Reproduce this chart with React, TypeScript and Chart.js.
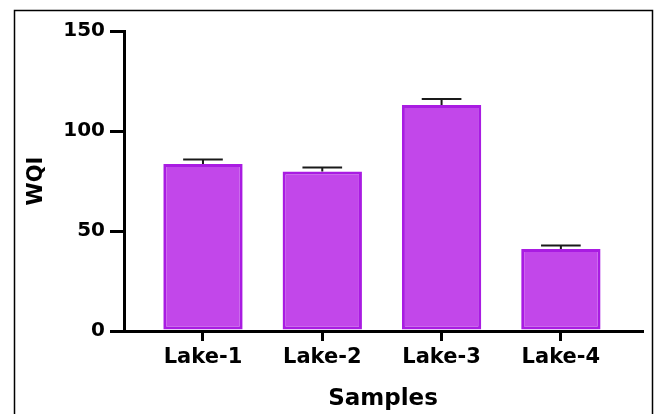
import { useEffect, useRef } from 'react';
import { Chart, registerables } from 'chart.js';

Chart.register(...registerables);

const categories = ['Lake-1', 'Lake-2', 'Lake-3', 'Lake-4'];
const wqiValues = [83.5, 79.7, 113, 41];
const wqiErrors = [2.2, 2.0, 3.0, 1.8];
const yTickValues = [0, 50, 100, 150];

const FONT = 'DejaVu Sans';

const errorBarPlugin = {
  id: 'errorBars',
  afterDatasetsDraw(chart: any) {
    const ctx = chart.ctx;
    const meta = chart.getDatasetMeta(0);
    const yScale = chart.scales.y;
    ctx.save();
    ctx.strokeStyle = '#1a1a1a';
    ctx.lineWidth = 2;
    meta.data.forEach((bar: any, i: number) => {
      const top = yScale.getPixelForValue(wqiValues[i] + wqiErrors[i]);
      const half = bar.width / 4;
      ctx.beginPath();
      ctx.moveTo(bar.x, bar.y);
      ctx.lineTo(bar.x, top);
      ctx.moveTo(bar.x - half, top);
      ctx.lineTo(bar.x + half, top);
      ctx.stroke();
    });
    ctx.restore();
  },
};

const framePlugin = {
  id: 'frame',
  afterDraw(chart: any) {
    const ctx = chart.ctx;
    ctx.save();
    ctx.strokeStyle = '#000';
    ctx.lineWidth = 1.5;
    ctx.beginPath();
    ctx.moveTo(14.5, 420);
    ctx.lineTo(14.5, 10.5);
    ctx.lineTo(652.5, 10.5);
    ctx.lineTo(652.5, 420);
    ctx.stroke();
    ctx.restore();
  },
};

export default function App() {
  const ref = useRef<HTMLCanvasElement>(null);

  useEffect(() => {
    document.body.style.margin = '0';
    const canvas = ref.current;
    if (!canvas) return;
    const chart = new Chart(canvas, {
      type: 'bar',
      data: {
        datasets: [
          {
            data: wqiValues.map((v, i) => ({ x: i, y: v })),
            backgroundColor: '#C247EA',
            borderColor: '#A91CE2',
            borderWidth: 3,
            borderSkipped: false,
            barPercentage: 0.665,
            categoryPercentage: 1,
          },
        ],
      },
      options: {
        animation: false,
        responsive: false,
        devicePixelRatio: 1,
        layout: { padding: { top: 31, right: 20, left: 0, bottom: 0 } },
        plugins: {
          legend: { display: false },
          tooltip: { enabled: false },
        },
        scales: {
          x: {
            type: 'linear',
            offset: false,
            min: -0.662,
            max: 3.68,
            afterBuildTicks: (s: any) => {
              s.ticks = categories.map((_, i) => ({ value: i }));
            },
            afterFit: (s: any) => {
              s.height = 83;
            },
            ticks: {
              callback: (v: any) => categories[v] ?? '',
              font: { family: FONT, weight: 'bold', size: 21 },
              color: '#000',
              padding: 4,
              maxRotation: 0,
              autoSkip: false,
            },
            grid: {
              offset: false,
              drawOnChartArea: false,
              drawTicks: true,
              tickLength: 10,
              tickWidth: 3,
              tickColor: '#000',
              lineWidth: 3,
              color: '#000',
            },
            border: { display: true, color: '#000', width: 3 },
            title: {
              display: true,
              text: 'Samples',
              color: '#000',
              font: { family: FONT, weight: 'bold', size: 23 },
              padding: { top: 0, bottom: 1 },
            },
          },
          y: {
            min: 0,
            max: 150,
            afterBuildTicks: (s: any) => {
              s.ticks = yTickValues.map((v) => ({ value: v }));
            },
            afterFit: (s: any) => {
              s.width = 124;
            },
            ticks: {
              font: { family: FONT, weight: 'bold', size: 20 },
              color: '#000',
              padding: 5,
            },
            grid: {
              drawOnChartArea: false,
              drawTicks: true,
              tickLength: 14,
              tickWidth: 3,
              tickColor: '#000',
              lineWidth: 3,
              color: '#000',
            },
            border: { display: true, color: '#000', width: 3 },
            title: {
              display: true,
              text: 'WQI',
              color: '#000',
              font: { family: FONT, weight: 'bold', size: 21 },
              padding: { top: 24, bottom: 0 },
            },
          },
        },
      } as any,
      plugins: [errorBarPlugin, framePlugin],
    });
    return () => chart.destroy();
  }, []);

  return (
    <div style={{ position: 'fixed', left: 0, top: 0, width: 662, height: 414, background: '#fff' }}>
      <canvas ref={ref} width={662} height={414} />
    </div>
  );
}
